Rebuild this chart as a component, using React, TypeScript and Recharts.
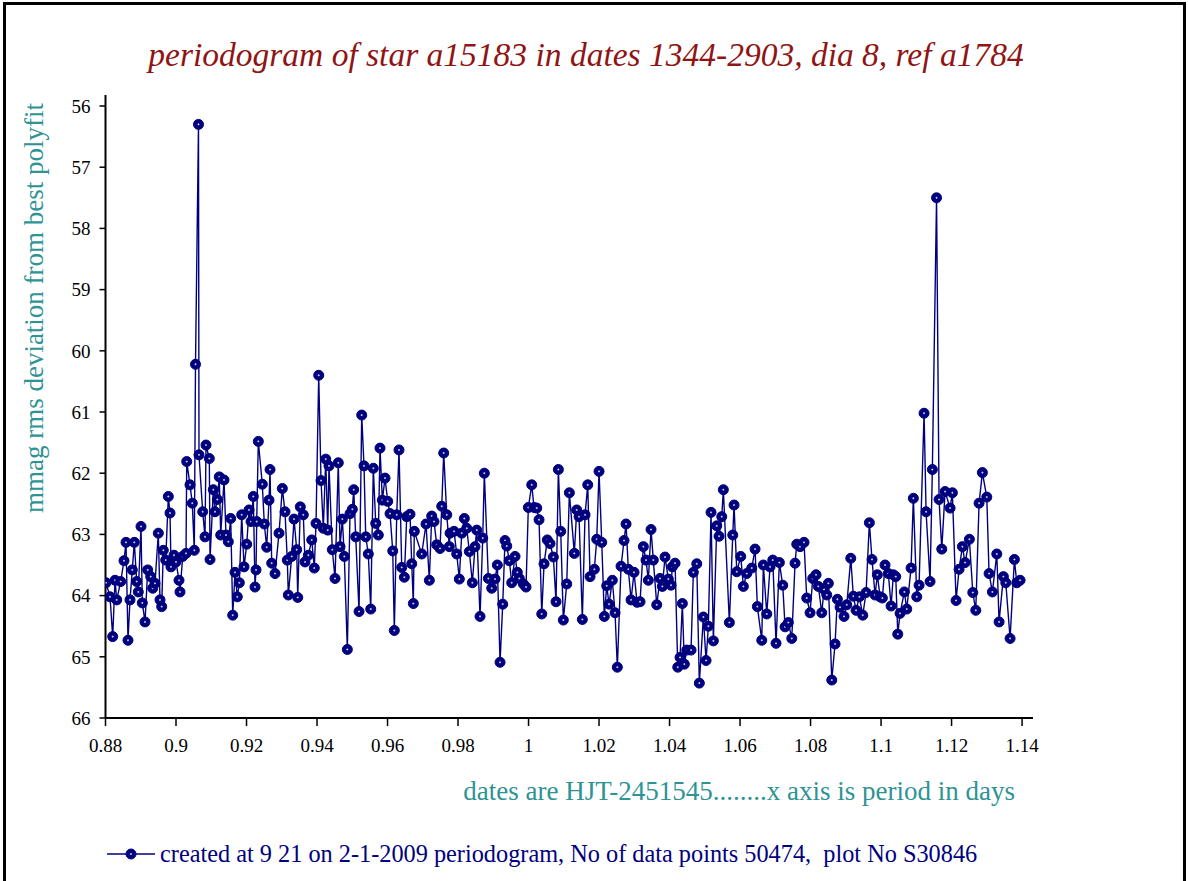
import { CartesianGrid, Line, LineChart, XAxis, YAxis } from 'recharts'

// period in days (x)
const periods = [
  0.88014, 0.88128, 0.88204, 0.8827, 0.88318, 0.88431, 0.88525, 0.88582, 0.88638, 0.88695,
  0.8876, 0.88817, 0.88885, 0.8893, 0.89007, 0.89044, 0.89121, 0.89197, 0.89282, 0.89339,
  0.89404, 0.89498, 0.89546, 0.89594, 0.8964, 0.89708, 0.89782, 0.8983, 0.89858, 0.89943,
  0.9, 0.90085, 0.90113, 0.9019, 0.90284, 0.90304, 0.90397, 0.90462, 0.90519, 0.90553,
  0.90638, 0.90652, 0.90757, 0.90823, 0.90851, 0.90945, 0.90965, 0.91058, 0.91106, 0.91172,
  0.91228, 0.91268, 0.91362, 0.91418, 0.91484, 0.91552, 0.91609, 0.91674, 0.91739, 0.91796,
  0.91864, 0.91929, 0.92006, 0.92071, 0.92128, 0.92193, 0.92241, 0.9227, 0.92289, 0.92335,
  0.92448, 0.92505, 0.92573, 0.92638, 0.92667, 0.92715, 0.92809, 0.92922, 0.93016, 0.93092,
  0.93157, 0.93186, 0.93282, 0.93348, 0.93424, 0.93453, 0.93526, 0.93611, 0.9366, 0.93753,
  0.9385, 0.93923, 0.93972, 0.94048, 0.94114, 0.94179, 0.94247, 0.94304, 0.9434, 0.94434,
  0.94511, 0.94604, 0.94653, 0.94718, 0.94775, 0.9486, 0.94936, 0.95002, 0.95041, 0.95098,
  0.95192, 0.95268, 0.95333, 0.95382, 0.95455, 0.95524, 0.95597, 0.95665, 0.95739, 0.95787,
  0.95853, 0.95929, 0.96006, 0.96071, 0.96148, 0.96193, 0.96261, 0.96326, 0.96403, 0.96477,
  0.96545, 0.96638, 0.96687, 0.96732, 0.9676, 0.9697, 0.97092, 0.97186, 0.97254, 0.97319,
  0.97396, 0.97489, 0.97538, 0.97594, 0.9768, 0.97753, 0.97773, 0.97887, 0.97963, 0.98037,
  0.98105, 0.98179, 0.98247, 0.98321, 0.98406, 0.98482, 0.98531, 0.98624, 0.98701, 0.98746,
  0.9886, 0.98956, 0.9905, 0.99115, 0.99192, 0.99268, 0.99333, 0.99382, 0.99455, 0.99523,
  0.99617, 0.99682, 0.99739, 0.99853, 0.99929, 0.99994, 1.00091, 1.00156, 1.00233, 1.00298,
  1.00375, 1.0044, 1.00533, 1.0061, 1.00704, 1.0078, 1.00846, 1.00913, 1.00987, 1.01084,
  1.01158, 1.01299, 1.01367, 1.01433, 1.01526, 1.01603, 1.0168, 1.01745, 1.01867, 1.01935,
  1.02, 1.02077, 1.0215, 1.02218, 1.02284, 1.02377, 1.02454, 1.02519, 1.02624, 1.02709,
  1.02766, 1.02831, 1.02908, 1.02993, 1.03078, 1.03163, 1.03257, 1.03333, 1.03399, 1.03475,
  1.0354, 1.03637, 1.0373, 1.03796, 1.03872, 1.03966, 1.04042, 1.04079, 1.04156, 1.04233,
  1.04298, 1.04363, 1.0442, 1.04488, 1.0461, 1.04675, 1.04772, 1.04845, 1.04959, 1.05036,
  1.05101, 1.05177, 1.05243, 1.05339, 1.05404, 1.05481, 1.05526, 1.05697, 1.05793, 1.0583,
  1.05907, 1.0602, 1.06094, 1.0619, 1.06332, 1.06426, 1.06491, 1.06616, 1.06661, 1.06758,
  1.06851, 1.06928, 1.07021, 1.07115, 1.07211, 1.07277, 1.0737, 1.07467, 1.0756, 1.07609,
  1.07702, 1.07815, 1.07892, 1.07986, 1.08062, 1.08156, 1.08221, 1.08318, 1.08383, 1.0846,
  1.08505, 1.08602, 1.08695, 1.0876, 1.08837, 1.0895, 1.09027, 1.09141, 1.09214, 1.09291,
  1.09385, 1.09481, 1.09575, 1.09668, 1.09743, 1.0983, 1.09895, 1.09972, 1.10037, 1.10113,
  1.10207, 1.10284, 1.10349, 1.10417, 1.10474, 1.10539, 1.10661, 1.10729, 1.10851, 1.10916,
  1.11013, 1.11078, 1.1122, 1.11277, 1.1139, 1.11455, 1.11574, 1.11645, 1.11722, 1.11816,
  1.11958, 1.12023, 1.12128, 1.12213, 1.12307, 1.12384, 1.12505, 1.12602, 1.12687, 1.1278,
  1.12874, 1.12999, 1.13064, 1.13158, 1.13283, 1.13348, 1.1347, 1.13538, 1.1366, 1.13782,
  1.1385, 1.13944
]

// mmag rms deviation from best polyfit (y)
const rmsDev = [
  63.79, 64.02, 64.67, 63.75, 64.07, 63.77, 63.43, 63.13, 64.73, 64.07,
  63.58, 63.13, 63.77, 63.94, 62.87, 64.12, 64.43, 63.58, 63.69, 63.88,
  63.8, 62.98, 64.07, 64.18, 63.26, 63.42, 62.38, 62.65, 63.53, 63.34,
  63.45, 63.75, 63.94, 63.36, 63.31, 61.81, 62.19, 62.49, 63.26, 60.22,
  56.3, 61.7, 62.63, 63.04, 61.54, 61.76, 63.41, 62.27, 62.63, 62.43,
  62.06, 63.01, 62.11, 63.01, 63.12, 62.74, 64.32, 63.62, 64.02, 63.79,
  62.68, 63.53, 63.16, 62.6, 62.79, 62.38, 63.86, 63.58, 62.79, 61.48,
  62.18, 62.83, 63.21, 62.44, 61.94, 63.47, 63.64, 62.98, 62.25, 62.63,
  63.42, 63.99, 63.36, 62.75, 63.25, 64.03, 62.55, 62.68, 63.45, 63.34,
  63.09, 63.55, 62.82, 60.4, 62.12, 62.9, 61.77, 62.93, 61.88, 63.25,
  63.72, 61.83, 63.2, 62.75, 63.36, 64.88, 62.66, 62.59, 62.27, 63.04,
  64.26, 61.05, 61.88, 63.04, 63.32, 64.22, 61.92, 62.82, 63.01, 61.59,
  62.44, 62.08, 62.46, 62.66, 63.27, 64.57, 62.68, 61.62, 63.54, 63.7,
  62.71, 62.67, 63.48, 64.13, 62.95, 63.32, 62.83, 63.75, 62.7, 62.79,
  63.17, 63.23, 62.54, 61.67, 62.68, 63.2, 62.98, 62.95, 63.32, 63.73,
  62.98, 62.74, 62.9, 63.28, 63.79, 63.2, 62.93, 64.34, 63.06, 62.0,
  63.72, 63.88, 63.73, 63.5, 65.09, 64.14, 63.1, 63.19, 63.43, 63.79,
  63.36, 63.62, 63.72, 63.81, 63.86, 62.56, 62.19, 62.56, 62.57, 62.76,
  64.3, 63.48, 63.09, 63.15, 63.37, 64.1, 61.94, 62.95, 64.4, 63.81,
  62.32, 63.31, 62.6, 62.71, 64.39, 62.68, 62.19, 63.69, 63.57, 63.08,
  61.97, 63.13, 64.34, 63.84, 64.14, 63.75, 64.28, 65.17, 63.52, 63.1,
  62.83, 63.57, 64.07, 63.62, 64.11, 64.1, 63.2, 63.42, 63.75, 62.92,
  63.42, 64.15, 63.72, 63.85, 63.37, 63.73, 63.83, 63.53, 63.47, 65.17,
  65.01, 64.13, 65.12, 64.89, 64.89, 63.62, 63.48, 65.43, 64.35, 65.06,
  64.5, 62.64, 64.74, 62.86, 63.03, 62.71, 62.27, 64.44, 63.01, 62.52,
  63.61, 63.36, 63.85, 63.64, 63.55, 63.24, 64.18, 64.73, 63.5, 64.3,
  63.53, 63.42, 64.78, 63.46, 63.83, 64.51, 64.44, 64.7, 63.47, 63.16,
  63.2, 63.13, 64.04, 64.28, 63.72, 63.66, 63.85, 64.28, 63.9, 63.99,
  63.8, 65.38, 64.79, 64.06, 64.19, 64.34, 64.15, 63.39, 64.01, 64.24,
  64.02, 64.32, 63.95, 62.81, 63.41, 63.99, 63.66, 64.02, 64.04, 63.5,
  63.64, 64.17, 63.66, 63.69, 64.63, 64.29, 63.94, 64.22, 63.55, 62.41,
  64.02, 63.83, 61.02, 62.63, 63.77, 61.94, 57.5, 62.43, 63.24, 62.3,
  62.57, 62.32, 64.08, 63.57, 63.2, 63.46, 63.08, 63.95, 64.24, 62.49,
  61.99, 62.39, 63.64, 63.94, 63.32, 64.43, 63.69, 63.79, 64.7, 63.41,
  63.79, 63.75
]

const xTicks = [0.88, 0.9, 0.92, 0.94, 0.96, 0.98, 1, 1.02, 1.04, 1.06, 1.08, 1.1, 1.12, 1.14]
const yTicks = [56, 57, 58, 59, 60, 61, 62, 63, 64, 65, 66]

const data = periods.map((p, i) => ({ period: p, rms: rmsDev[i] }))

const navy = '#00007f'
const teal = '#2e9393'
const serif = '"Liberation Serif", "DejaVu Serif", serif'

function StarDot(props: any) {
  const { cx, cy } = props
  if (cx == null || cy == null) return null
  return (
    <g>
      <circle cx={cx} cy={cy} r={5} fill={navy} stroke={navy} strokeWidth={1} />
      <path
        d={`M${cx - 1},${cy}H${cx + 1}M${cx},${cy - 1}V${cy + 1}`}
        stroke="#e4e4f7"
        strokeWidth={0.8}
      />
    </g>
  )
}

export default function App() {
  return (
    <div
      style={{
        position: 'fixed',
        left: 0,
        top: 0,
        width: 1188,
        height: 881,
        overflow: 'hidden',
        background: '#fff',
        fontFamily: serif
      }}
    >
      <div
        style={{
          position: 'absolute',
          left: 3,
          top: 2,
          width: 1177,
          height: 920,
          border: '3px solid #000'
        }}
      />
      <div
        style={{
          position: 'absolute',
          left: -8,
          width: 1188,
          top: 35,
          textAlign: 'center',
          fontStyle: 'italic',
          fontSize: 33.5,
          lineHeight: '40px',
          color: '#8f1414'
        }}
      >
        periodogram of star a15183 in dates 1344-2903, dia 8, ref a1784
      </div>
      <div
        style={{
          position: 'absolute',
          left: 34,
          top: 308,
          transform: 'translate(-50%, -50%) rotate(-90deg)',
          whiteSpace: 'nowrap',
          fontSize: 27,
          color: teal
        }}
      >
        mmag rms deviation from best polyfit
      </div>

      <div style={{ position: 'absolute', left: 0, top: 0 }}>
        <LineChart
          width={1188}
          height={881}
          data={data}
          margin={{ top: 95, right: 155, left: 45.5, bottom: 133 }}
        >
          <CartesianGrid stroke="none" />
          <XAxis
            dataKey="period"
            type="number"
            domain={[0.88, 1.1431]}
            ticks={xTicks}
            allowDataOverflow
            height={30}
            tickSize={8}
            tickMargin={13}
            tickLine={{ stroke: '#000', strokeWidth: 1.5 }}
            axisLine={{ stroke: '#000', strokeWidth: 2 }}
            tick={{ fill: '#000', fontSize: 19, fontFamily: serif }}
            tickFormatter={(v: number) => String(Number(v.toFixed(2)))}
          />
          <YAxis
            type="number"
            reversed
            domain={[55.82, 66]}
            ticks={yTicks}
            allowDataOverflow
            width={60}
            tickSize={6}
            tickMargin={9}
            tickLine={{ stroke: '#000', strokeWidth: 1.5 }}
            axisLine={{ stroke: '#000', strokeWidth: 2 }}
            tick={{ fill: '#000', fontSize: 19, fontFamily: serif }}
          />
          <Line
            type="linear"
            dataKey="rms"
            stroke={navy}
            strokeWidth={1.4}
            dot={<StarDot />}
            activeDot={false}
            isAnimationActive={false}
          />
        </LineChart>
      </div>

      <div
        style={{
          position: 'absolute',
          right: 173,
          top: 776,
          fontSize: 27,
          color: teal,
          whiteSpace: 'nowrap'
        }}
      >
        dates are HJT-2451545........x axis is period in days
      </div>

      <div
        style={{
          position: 'absolute',
          left: 107,
          top: 840,
          display: 'flex',
          alignItems: 'center',
          fontSize: 24.3,
          color: navy,
          whiteSpace: 'pre'
        }}
      >
        <svg width={50} height={14} style={{ marginRight: 3 }}>
          <line x1={0} x2={48} y1={7} y2={7} stroke={navy} strokeWidth={1.5} />
          <circle cx={24} cy={7} r={5} fill={navy} stroke={navy} strokeWidth={1} />
          <path d="M23,7H25M24,6V8" stroke="#e4e4f7" strokeWidth={0.8} />
        </svg>
        <span>created at 9 21 on 2-1-2009 periodogram, No of data points 50474,  plot No S30846</span>
      </div>
    </div>
  )
}
